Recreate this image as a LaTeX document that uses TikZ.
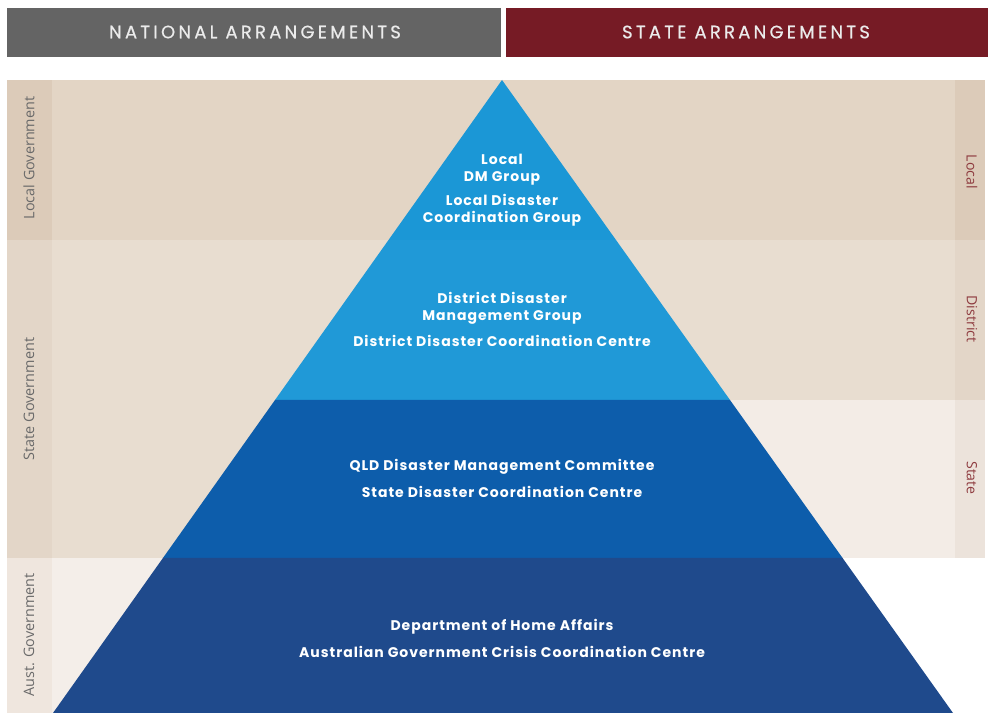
\documentclass[tikz,border=0pt]{standalone}
\usepackage{fontspec}
\setmainfont{Open Sans}
\newfontfamily\headfont{Poppins}[LetterSpace=18,FakeBold=0.6]
\newfontfamily\tierfont{Poppins}[LetterSpace=7]
\usetikzlibrary{calc}

\definecolor{natgray}{HTML}{646464}
\definecolor{statered}{HTML}{761B25}
\definecolor{localband}{HTML}{E3D5C5}
\definecolor{localstrip}{HTML}{DCCBB9}
\definecolor{distband}{HTML}{E8DDD0}
\definecolor{diststrip}{HTML}{E3D6C8}
\definecolor{stateband}{HTML}{F3ECE6}
\definecolor{statestrip}{HTML}{ECE3DB}
\definecolor{austband}{HTML}{F4EEE9}
\definecolor{auststrip}{HTML}{EFE6DE}
\definecolor{tierlocal}{HTML}{1B97D6}
\definecolor{tierdist}{HTML}{2099D7}
\definecolor{tierstate}{HTML}{0D5DAB}
\definecolor{tieraust}{HTML}{1F4A8C}
\definecolor{sidegray}{HTML}{6A6A6A}
\definecolor{sidered}{HTML}{8E3B3F}

\tikzset{
  headtext/.style={text=white!92!black,font=\headfont\fontsize{13.5}{16}\selectfont},
  tiertext/.style={text=white,align=center,font=\tierfont\bfseries\fontsize{10.5}{12.75}\selectfont},
  govlabel/.style={text=sidegray,rotate=90,font=\fontsize{10.8}{12}\selectfont},
  levellabel/.style={text=sidered,rotate=-90,font=\fontsize{10.6}{12}\selectfont}
}

\begin{document}
\begin{tikzpicture}[x=0.75pt,y=-0.75pt]
\useasboundingbox (0,0) rectangle (988,713);

% header bars
\fill[natgray] (7,8) rectangle (501,57);
\fill[statered] (506,8) rectangle (988,57);
\node[headtext] (national) at (255,32) {NATIONAL ARRANGEMENTS};
\node[headtext] (statearr) at (746,32) {STATE ARRANGEMENTS};

% background bands
\fill[localband] (7,80) rectangle (985,240);
\fill[distband] (7,240) rectangle (985,400);
\fill[distband] (7,400) rectangle (502,558);
\fill[stateband] (502,400) rectangle (955,558);
\fill[austband] (52,558) rectangle (502,713);

% side strips
\fill[localstrip] (7,80) rectangle (52,240);
\fill[diststrip] (7,240) rectangle (52,558);
\fill[auststrip] (7,558) rectangle (52,713);
\fill[localstrip] (955,80) rectangle (985,240);
\fill[diststrip] (955,240) rectangle (985,400);
\fill[statestrip] (955,400) rectangle (985,558);

% pyramid
\coordinate (apex) at (502,80);
\coordinate (bl) at (53,713);
\coordinate (br) at (953,713);
\fill[tierlocal] (apex) -- ($(apex)!0.2528!(br)$) -- ($(apex)!0.2528!(bl)$) -- cycle;
\fill[tierdist] ($(apex)!0.2528!(bl)$) -- ($(apex)!0.2528!(br)$) -- ($(apex)!0.5055!(br)$) -- ($(apex)!0.5055!(bl)$) -- cycle;
\fill[tierstate] ($(apex)!0.5055!(bl)$) -- ($(apex)!0.5055!(br)$) -- ($(apex)!0.7551!(br)$) -- ($(apex)!0.7551!(bl)$) -- cycle;
\fill[tieraust] ($(apex)!0.7551!(bl)$) -- ($(apex)!0.7551!(br)$) -- (br) -- (bl) -- cycle;

% tier texts
\node[tiertext] (ldmg) at (502,169.5) {Local\\DM Group};
\node[tiertext] (ldcg) at (502,210.5) {Local Disaster\\Coordination Group};
\node[tiertext] (ddmg) at (502,308) {District Disaster\\Management Group};
\node[tiertext] (ddcc) at (502,341) {District Disaster Coordination Centre};
\node[tiertext] (qdmc) at (502,467) {QLD Disaster Management Committee};
\node[tiertext] (sdcc) at (502,492) {State Disaster Coordination Centre};
\node[tiertext] (dha) at (502,627) {Department of Home Affairs};
\node[tiertext] (agccc) at (502,652) {Australian Government Crisis Coordination Centre};

% side labels
\node[govlabel] (localgov) at (29,158) {Local Government};
\node[govlabel] (stategov) at (29,399) {State Government};
\node[govlabel] (austgov) at (29,635) {Aust. Government};
\node[levellabel] (locallvl) at (972,172) {Local};
\node[levellabel] (districtlvl) at (972,319) {District};
\node[levellabel] (statelvl) at (972,478) {State};
\end{tikzpicture}
\end{document}
